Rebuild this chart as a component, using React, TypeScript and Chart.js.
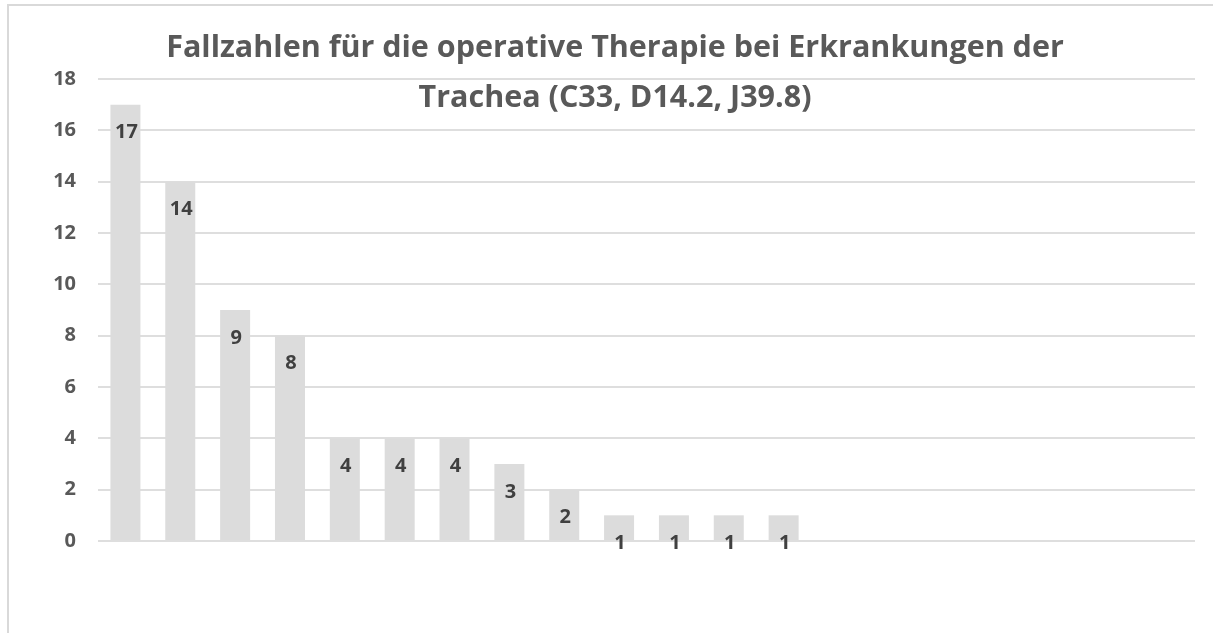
import React, { useEffect, useRef } from "react";
import { Chart, registerables } from "chart.js";

Chart.register(...registerables);

const TITLE_LINES = [
  "Fallzahlen für die operative Therapie bei Erkrankungen der",
  "Trachea (C33, D14.2, J39.8)",
];

const CATEGORIES = [
  "1", "2", "3", "4", "5", "6", "7", "8", "9", "10",
  "11", "12", "13", "14", "15", "16", "17", "18", "19", "20",
];

const VALUES: (number | null)[] = [
  17, 14, 9, 8, 4, 4, 4, 3, 2, 1, 1, 1, 1,
  null, null, null, null, null, null, null,
];

const Y_TICKS = [0, 2, 4, 6, 8, 10, 12, 14, 16, 18];

const FONT = "'Open Sans'";

const dataLabelPlugin = {
  id: "insideEndLabels",
  afterDatasetsDraw(chart: any) {
    const ctx = chart.ctx;
    const meta = chart.getDatasetMeta(0);
    const data = chart.data.datasets[0].data;
    ctx.save();
    ctx.font = `bold 20px ${FONT}`;
    ctx.fillStyle = "#404040";
    ctx.textAlign = "center";
    ctx.textBaseline = "middle";
    meta.data.forEach((el: any, i: number) => {
      const v = data[i];
      if (v === null || v === undefined) return;
      ctx.fillText(String(v), el.x + 1, el.y + 28);
    });
    ctx.restore();
  },
};

export default function App() {
  const ref = useRef<HTMLCanvasElement | null>(null);

  useEffect(() => {
    if (!ref.current) return;
    const chart = new Chart(ref.current, {
      type: "bar",
      data: {
        labels: CATEGORIES,
        datasets: [
          {
            data: VALUES,
            backgroundColor: "#dcdcdc",
            borderWidth: 0,
            barPercentage: 0.547,
            categoryPercentage: 1,
          },
        ],
      },
      options: {
        responsive: false,
        animation: false,
        layout: { padding: { left: 35, right: 35, top: 0, bottom: 92 } },
        plugins: {
          legend: { display: false },
          tooltip: { enabled: false },
          title: {
            display: true,
            text: TITLE_LINES,
            color: "#595959",
            font: { family: FONT, size: 30.5, weight: "bold", lineHeight: "50px" },
            padding: { top: 23, bottom: -44 },
          },
        },
        scales: {
          x: {
            grid: { display: false },
            border: { display: false },
            ticks: { display: false },
            afterFit: (scale: any) => {
              scale.height = 0;
            },
          },
          y: {
            min: 0,
            max: 18,
            afterBuildTicks: (scale: any) => {
              scale.ticks = Y_TICKS.map((v) => ({ value: v }));
            },
            afterFit: (scale: any) => {
              scale.width = 63;
            },
            grid: { color: "#dedede", lineWidth: 2, drawTicks: false },
            border: { display: false },
            ticks: {
              padding: 22,
              color: "#595959",
              font: { family: FONT, size: 20, weight: "bold" },
            },
          },
        },
      },
      plugins: [dataLabelPlugin],
    });
    return () => chart.destroy();
  }, []);

  return (
    <div
      style={{
        position: "fixed",
        left: 0,
        top: 0,
        width: 1213,
        height: 633,
        overflow: "hidden",
        background: "#ffffff",
      }}
    >
      <div
        style={{
          position: "absolute",
          left: 7,
          top: 4,
          width: 1400,
          height: 800,
          borderTop: "2px solid #d9d9d9",
          borderLeft: "2px solid #d9d9d9",
        }}
      />
      <canvas
        ref={ref}
        width={1230}
        height={633}
        style={{ position: "absolute", left: 0, top: 0 }}
      />
    </div>
  );
}
